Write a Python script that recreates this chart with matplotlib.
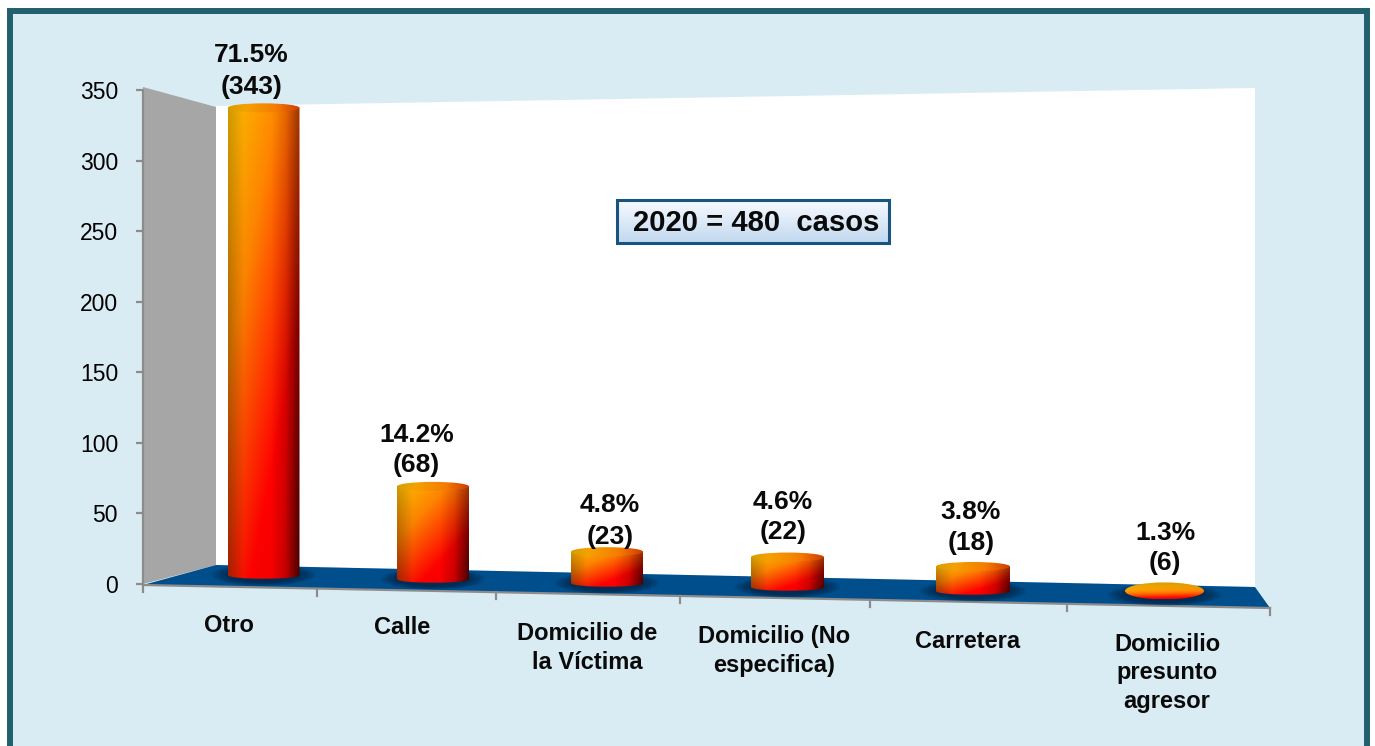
import numpy as np
import matplotlib
matplotlib.use("Agg")
import matplotlib.pyplot as plt
from matplotlib.patches import Polygon, PathPatch, Ellipse, Rectangle
from matplotlib.path import Path

plt.rcParams["font.family"] = ["Liberation Sans", "DejaVu Sans"]

# DATA
categories = ["Otro", "Calle", "Domicilio de\nla Víctima", "Domicilio (No\nespecifica)",
              "Carretera", "Domicilio\npresunto\nagresor"]
cases = [343, 68, 23, 22, 18, 6]
percents = ["71.5%", "14.2%", "4.8%", "4.6%", "3.8%", "1.3%"]
y_ticks = [0, 50, 100, 150, 200, 250, 300, 350]

# LAYOUT (pixels of the 1375x746 picture)
W, H = 1375, 746
AX_LEFT, AX_RIGHT = 143, 1270
Y0_PX, Y350_PX = 584, 90
bar_centers = [263.5, 433, 607, 787.5, 973, 1164.5]
bar_widths = [72, 72, 72, 73, 74, 79]
bar_bases = [575, 579, 583, 587, 591, 595]
x_edges = [143, 317, 496, 680, 870, 1067, 1270]
pct_pos = [(251, 55), (416.5, 435), (610, 505), (783, 502), (971, 512), (1166, 533)]
count_pos = [(252, 87), (416, 465), (610, 537), (783, 532), (971, 543), (1165, 563)]
cat_pos = [(229, 625), (402, 628), (587, 648), (774, 651), (968, 641), (1167, 673)]
BAR_SCALE = 0.965
LIGHT_BLUE = "#DAECF3"
GRAY = "#8C8C8C"
FLOOR = "#004E8C"

PX_PER_CASE = (Y0_PX - Y350_PX) / 350


def to_cases(y_px):
    return (Y0_PX - y_px) / PX_PER_CASE


def floor_px(x):
    return 585 + (x - AX_LEFT) * (608 - 585) / (AX_RIGHT - AX_LEFT)


fig = plt.figure(figsize=(W / 100, H / 100), dpi=100, facecolor="white")

# BACKGROUND PANEL AND 3D WALLS
bg = fig.add_axes([0, 0, 1, 1])
bg.set_xlim(0, W)
bg.set_ylim(H, 0)
bg.axis("off")
bg.add_patch(Rectangle((10, 10.5), 1357, H, fc=LIGHT_BLUE, ec="#22606F", lw=4.3))
bg.add_patch(Polygon([(216, 106), (1255, 88), (1255, 587), (216, 565)], fc="white", ec="none"))
bg.add_patch(Polygon([(143, 87), (216, 107), (216, 565), (143, 584)], fc="#A6A6A6", ec="none"))
floor_patch = Polygon([(216, 565), (1255, 587), (1270, 608), (143, 585)], fc=FLOOR, ec="none")
bg.add_patch(floor_patch)

# DATA AXES
ax = fig.add_axes([AX_LEFT / W, 1 - Y0_PX / H, (AX_RIGHT - AX_LEFT) / W, (Y0_PX - Y350_PX) / H])
ax.patch.set_alpha(0)
ax.set_xlim(AX_LEFT, AX_RIGHT)
ax.set_ylim(0, 350)
for side in ["top", "right", "bottom"]:
    ax.spines[side].set_visible(False)
ax.spines["left"].set_color(GRAY)
ax.spines["left"].set_linewidth(1.6)
ax.set_xticks([])
ax.set_yticks(y_ticks)
ax.tick_params(axis="y", length=5, width=1.6, color=GRAY, labelsize=16.5, pad=13)

# SLOPED CATEGORY AXIS
ax.plot([AX_LEFT, AX_RIGHT], [to_cases(floor_px(AX_LEFT)), to_cases(floor_px(AX_RIGHT))],
        color=GRAY, lw=1.6, clip_on=False, zorder=2)
for xe in x_edges:
    yf = floor_px(xe)
    ax.plot([xe, xe], [to_cases(yf), to_cases(yf + 7)], color=GRAY, lw=1.6,
            clip_on=False, zorder=2)


def ramp(t):
    # yellow, orange, red
    pos = [0, 0.35, 0.8, 1.0]
    r = np.interp(t, pos, [1.0, 1.0, 1.0, 0.95])
    g = np.interp(t, pos, [0.76, 0.52, 0.0, 0.0])
    return np.stack([r, g, np.zeros_like(t)], axis=-1)


def bar_image():
    xx, yy = np.meshgrid(np.linspace(0, 1, 120), np.linspace(0, 1, 300))
    img = ramp(np.clip(yy * 0.64 + xx * 0.5, 0, 1))
    side = np.interp(xx, [0, 0.22, 0.6, 0.8, 1.0], [0.72, 0.98, 1.0, 0.86, 0.45])
    side = 1 - (1 - side) * (0.7 + 0.6 * yy)
    return np.clip(img * side[..., None], 0, 1)


def lid_image():
    xx, yy = np.meshgrid(np.linspace(0, 1, 80), np.linspace(0, 1, 20))
    img = ramp(np.clip(xx * 0.5 + 0.03, 0, 1))
    side = np.interp(xx, [0, 0.25, 0.7, 1.0], [0.84, 0.96, 0.96, 0.8])
    return img * side[..., None]


def disc_image():
    # the very short bar is nearly only a lid
    xx, yy = np.meshgrid(np.linspace(0, 1, 80), np.linspace(0, 1, 40))
    img = ramp(np.clip(yy ** 2 * 0.85 + xx * 0.12, 0, 1))
    return img * np.interp(yy, [0, 0.5], [0.85, 1.0])[..., None]


def clipped_image(img, extent, clip, z):
    im = ax.imshow(img, extent=extent, aspect="auto", zorder=z, interpolation="bilinear")
    im.set_clip_box(fig.bbox)
    im.set_clip_path(clip)


def add_shadow(x, y_px, w):
    # soft dark patch on the floor under each bar
    for k in np.linspace(1.45, 1.0, 8):
        e = Ellipse((x, to_cases(y_px)), w * k, 15 * k / PX_PER_CASE, fc="#001A33",
                    ec="none", alpha=0.1, zorder=3)
        ax.add_patch(e)
        e.set_clip_box(fig.bbox)
        e.set_clip_path(floor_patch)


# CYLINDERS
for i, v in enumerate(cases):
    xc = bar_centers[i]
    w = bar_widths[i]
    base = to_cases(bar_bases[i])
    top = base + v * BAR_SCALE
    ry = 5 / PX_PER_CASE
    left, right = xc - w / 2, xc + w / 2
    add_shadow(xc, bar_bases[i], w)

    if v < 10:
        yc = (base + top) / 2
        disc = Ellipse((xc, yc), w, 17 / PX_PER_CASE, fc="none", ec="none", clip_on=False, zorder=4)
        ax.add_patch(disc)
        clipped_image(disc_image(), [left, right, yc - 8.5 / PX_PER_CASE, yc + 8.5 / PX_PER_CASE], disc, 4)
        continue

    verts = [(left, top), (left, base), (left, base - ry), (right, base - ry), (right, base),
             (right, top), (left, top)]
    codes = [Path.MOVETO, Path.LINETO, Path.CURVE4, Path.CURVE4, Path.CURVE4, Path.LINETO, Path.CLOSEPOLY]
    body = PathPatch(Path(verts, codes), fc="none", ec="none", clip_on=False, zorder=4)
    ax.add_patch(body)
    clipped_image(bar_image(), [left, right, base - ry, top], body, 4)

    lid = Ellipse((xc, top), w, 9 / PX_PER_CASE, fc="none", ec="none", clip_on=False, zorder=5)
    ax.add_patch(lid)
    clipped_image(lid_image(), [left, right, top - 5 / PX_PER_CASE, top + 5 / PX_PER_CASE], lid, 5)

ax.set_xlim(AX_LEFT, AX_RIGHT)
ax.set_ylim(0, 350)

# TEXT ON TOP OF EVERYTHING
top_ax = fig.add_axes([0, 0, 1, 1])
top_ax.set_xlim(0, W)
top_ax.set_ylim(H, 0)
top_ax.axis("off")
top_ax.patch.set_alpha(0)

for i in range(len(cases)):
    top_ax.text(pct_pos[i][0], pct_pos[i][1], percents[i], ha="center", va="center",
                fontsize=19, fontweight="bold", color="#0A0A0A")
    top_ax.text(count_pos[i][0], count_pos[i][1], "(%d)" % cases[i], ha="center", va="center",
                fontsize=19, fontweight="bold", color="#0A0A0A")
    top_ax.text(cat_pos[i][0], cat_pos[i][1], categories[i], ha="center", va="center",
                fontsize=17, fontweight="bold", color="#0A0A0A", linespacing=1.28)

# NOTE BOX
grad = np.linspace(0, 1, 60)[:, None]
note_img = np.dstack([np.interp(grad, [0, 1], [0.97, 0.76]), np.interp(grad, [0, 1], [0.98, 0.85]),
                      np.interp(grad, [0, 1], [1.0, 0.94])])
top_ax.imshow(note_img, extent=[617, 889, 243, 200], aspect="auto", zorder=2)
top_ax.set_xlim(0, W)
top_ax.set_ylim(H, 0)
top_ax.add_patch(Rectangle((617, 200), 272, 43, fc="none", ec="#17557F", lw=2.2, zorder=3))
top_ax.text(756, 223, "2020 = 480  casos", ha="center", va="center", fontsize=21.1,
            fontweight="bold", color="#0A0A0A", zorder=4)

plt.savefig("out.png", dpi=100)
